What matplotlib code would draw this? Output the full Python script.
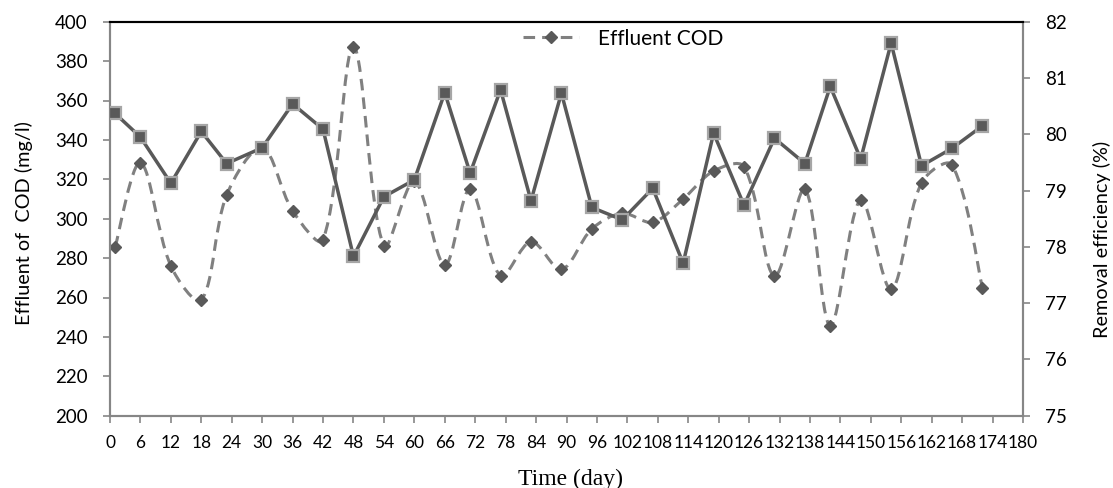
import matplotlib
matplotlib.use("Agg")
import matplotlib.pyplot as plt
from matplotlib.path import Path
from matplotlib.patches import PathPatch
from matplotlib.lines import Line2D
import numpy as np

# ---- data ----
days = [1, 6, 12, 18, 23, 30, 36, 42, 48, 54, 60, 66, 71, 77, 83,
        89, 95, 101, 107, 113, 119, 125, 131, 137, 142, 148, 154, 160, 166, 172]
effluent_cod = [285.5, 328.4, 276.0, 258.7, 312.0, 336.0, 304.0, 289.2, 387.3, 286.1,
                319.0, 276.5, 315.0, 271.0, 288.3, 274.3, 294.8, 302.7, 298.2, 310.0,
                324.2, 326.4, 270.9, 314.9, 245.7, 309.5, 264.2, 318.3, 327.3, 265.0]
removal_eff = [80.37, 79.95, 79.13, 80.05, 79.48, 79.76, 80.54, 80.09, 77.83, 78.89,
               79.19, 80.74, 79.31, 80.79, 78.82, 80.73, 78.70, 78.48, 79.04, 77.71,
               80.02, 78.74, 79.93, 79.48, 80.85, 79.56, 81.62, 79.44, 79.75, 80.15]
x_ticks = list(range(0, 181, 6))
left_ticks = list(range(200, 401, 20))
right_ticks = list(range(75, 83, 1))

FONT = "Lato"
GRAY_AX = "#868686"
DARK = "#595959"
DASH_C = "#808080"

fig = plt.figure(figsize=(11.13, 4.88), dpi=100)
ax = fig.add_axes([110/1113, (488-415.7)/488, 913/1113, 394/488])
ax2 = ax.twinx()
ax.set_xlim(0, 180)
ax.set_ylim(200, 400)
ax2.set_ylim(75, 82)


def smooth_path(axis, xs, ys):
    """Excel-like smoothed line: cubic Beziers built in display space."""
    to_disp = axis.transData
    P = to_disp.transform(np.column_stack([xs, ys]).astype(float))
    n = len(P)
    d = np.r_[0.0, np.hypot(*np.diff(P, axis=0).T)]  # d[i] = |P[i]-P[i-1]|
    verts = [P[0]]
    codes = [Path.MOVETO]
    f = 1.0 / 3.0
    for i in range(n - 1):
        p0, p3 = P[i], P[i + 1]
        if i == 0:
            c1 = p0 + (p3 - p0) / 6.0
        else:
            T = P[i + 1] - P[i - 1]
            c1 = p0 + T * d[i + 1] / (d[i] + d[i + 1]) * f
        if i + 2 >= n:
            c2 = p3 - (p3 - p0) / 6.0
        else:
            T = P[i + 2] - P[i]
            c2 = p3 - T * d[i + 1] / (d[i + 1] + d[i + 2]) * f
        verts += [c1, c2, p3]
        codes += [Path.CURVE4] * 3
    data_verts = to_disp.inverted().transform(np.array(verts))
    return Path(data_verts, codes)


patch = PathPatch(smooth_path(ax, days, effluent_cod), fill=False, edgecolor=DASH_C,
                  lw=2.2, linestyle=(0, (3.8, 2.3)), capstyle="butt", zorder=2)
ax.add_patch(patch)
ax.plot(days, effluent_cod, linestyle="none", marker="D", markersize=6.5,
        markerfacecolor=DARK, markeredgecolor=DARK, zorder=3)

ax2.plot(days, removal_eff, color=DARK, lw=2.5, marker="s", markersize=8,
         markerfacecolor=DARK, markeredgecolor="#a6a6a6", markeredgewidth=1.6, zorder=3)

ax.set_xticks(x_ticks)
ax.set_xticklabels([str(t) for t in x_ticks], fontsize=12.5, family=FONT)
ax.set_yticks(left_ticks)
ax.set_yticklabels([str(t) for t in left_ticks], fontsize=13.5, family=FONT)
ax2.set_yticks(right_ticks)
ax2.set_yticklabels([str(t) for t in right_ticks], fontsize=13.5, family=FONT)

for a in (ax, ax2):
    for s in ("left", "right", "bottom"):
        a.spines[s].set_color(GRAY_AX)
        a.spines[s].set_linewidth(1.5)
    a.spines["top"].set_color("black")
    a.spines["top"].set_linewidth(1.5)
    a.tick_params(colors=GRAY_AX, labelcolor="black", length=5, width=1.2, direction="out")
ax.tick_params(axis="x", pad=9)
ax.tick_params(axis="y", pad=11)
ax2.tick_params(axis="y", pad=11)

ax.set_ylabel("Effluent of  COD (mg/l)", fontsize=14.3, family=FONT)
ax.yaxis.set_label_coords((33-110)/913, (415.7-223.3)/394)
ax2.set_ylabel("Removal efficiency (%)", fontsize=14.3, family=FONT, rotation=90)
ax2.yaxis.set_label_coords((1093-110)/913, (415.7-239)/394)
ax.set_xlabel("Time (day)", fontsize=17, family="Liberation Serif")
ax.xaxis.set_label_coords((570-110)/913, (415.7-469)/394)

handle = Line2D([], [], color=DASH_C, lw=2.2, linestyle=(0, (3.8, 2.3)), marker="D",
                markersize=6.5, markerfacecolor=DARK, markeredgecolor=DARK)
ax.legend([handle], ["Effluent COD"], loc="center left",
          bbox_to_anchor=((522.7-110)/913, (415.7-38.7)/394), frameon=False,
          borderpad=0, borderaxespad=0, handlelength=2.7, handletextpad=0.9,
          prop={"family": FONT, "size": 15})

fig.savefig("out.png", dpi=100)
